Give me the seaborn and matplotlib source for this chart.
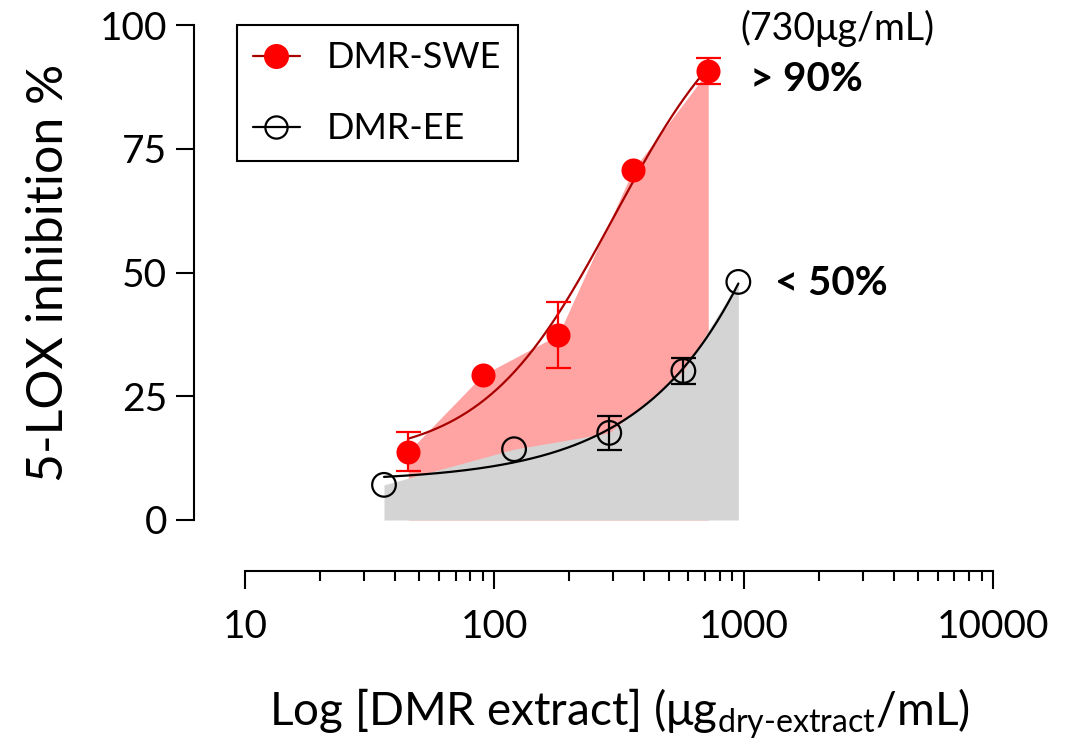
import numpy as np
import pandas as pd
import matplotlib
matplotlib.use("Agg")
import matplotlib.pyplot as plt
from matplotlib.lines import Line2D
from matplotlib.ticker import LogLocator, FixedLocator, NullFormatter
import seaborn as sns

# values
swe_conc = [45.2, 89.8, 180.6, 361.0, 721.0]
swe_inhib = [13.8, 29.3, 37.4, 70.8, 90.7]
swe_err = [3.9, 0.0, 6.7, 0.0, 2.7]

ee_conc = [36.1, 120.0, 289.0, 573.0, 952.0]
ee_inhib = [7.1, 14.3, 17.6, 30.1, 48.1]
ee_err = [0.0, 0.0, 3.4, 2.7, 0.0]

y_ticks = [0, 25, 50, 75, 100]
x_ticks = [10, 100, 1000, 10000]
x_ticklabels = ["10", "100", "1000", "10000"]


def fit_logistic(x, y):
    # 4PL fit on log10 concentration: grid over EC50 / hill, bottom+top by lstsq
    lx = np.log10(np.asarray(x))
    y = np.asarray(y)
    best = None
    for c in np.linspace(1.0, 4.0, 301):
        for h in np.linspace(0.2, 5.0, 97):
            s = 1.0 / (1.0 + 10 ** ((c - lx) * h))
            A = np.column_stack([np.ones_like(s), s])
            coef = np.linalg.lstsq(A, y, rcond=None)[0]
            err = np.sum((A @ coef - y) ** 2)
            if best is None or err < best[0]:
                best = (err, c, h, coef)
    _, c, h, coef = best

    def f(xx):
        s = 1.0 / (1.0 + 10 ** ((c - np.log10(xx)) * h))
        return coef[0] + coef[1] * s
    return f


def errbars(ax, x, y, err, color):
    # only the points that actually carry an error bar
    x, y, err = np.asarray(x), np.asarray(y), np.asarray(err)
    m = err > 0
    ax.errorbar(x[m], y[m], yerr=err[m], fmt="none", ecolor=color,
                elinewidth=1.6, capsize=9, capthick=1.6, zorder=4)


sns.set_theme(style="ticks")
plt.rcParams["font.family"] = ["Lato", "DejaVu Sans"]
plt.rcParams["text.color"] = "black"
plt.rcParams["axes.labelcolor"] = "black"
plt.rcParams["mathtext.fontset"] = "custom"
plt.rcParams["mathtext.rm"] = "Lato"
plt.rcParams["mathtext.it"] = "Lato:italic"
plt.rcParams["mathtext.bf"] = "Lato:bold"

fig = plt.figure(figsize=(10.68, 7.48), dpi=100)
ax = fig.add_axes([245 / 1068, 1 - 520 / 748, 748 / 1068, 495 / 748])

RED = "#ff0000"
DARKRED = "#a80000"

# shaded areas under the data
ax.fill_between(swe_conc, swe_inhib, 0, color="#ffa3a3", lw=0, zorder=1)
ax.fill_between(ee_conc, ee_inhib, 0, color="#d4d4d4", lw=0, zorder=2)

# fitted curves
f_swe = fit_logistic(swe_conc, swe_inhib)
f_ee = fit_logistic(ee_conc, ee_inhib)
xs_swe = np.logspace(np.log10(swe_conc[0]), np.log10(swe_conc[-1]), 200)
xs_ee = np.logspace(np.log10(ee_conc[0]), np.log10(ee_conc[-1]), 200)
curves = pd.DataFrame({"x": xs_swe, "y": f_swe(xs_swe)})
sns.lineplot(data=curves, x="x", y="y", color=DARKRED, lw=1.6, ax=ax, zorder=3)
curves = pd.DataFrame({"x": xs_ee, "y": f_ee(xs_ee)})
sns.lineplot(data=curves, x="x", y="y", color="black", lw=1.6, ax=ax, zorder=3)

errbars(ax, swe_conc, swe_inhib, swe_err, RED)
errbars(ax, ee_conc, ee_inhib, ee_err, "black")

# points
sns.scatterplot(x=swe_conc, y=swe_inhib, s=300, color=RED, edgecolor=RED,
                linewidth=0, ax=ax, zorder=5)
ax.scatter(ee_conc, ee_inhib, s=290, facecolors="none", edgecolors="black",
           linewidths=1.6, zorder=5)

ax.set_xscale("log")
ax.set_xlim(10, 10000)
ax.set_ylim(0, 100)

ax.xaxis.set_major_locator(FixedLocator(x_ticks))
ax.set_xticklabels(x_ticklabels)
ax.xaxis.set_minor_locator(LogLocator(base=10, subs=np.arange(2, 10)))
ax.xaxis.set_minor_formatter(NullFormatter())
ax.set_yticks(y_ticks)

for side in ["top", "right"]:
    ax.spines[side].set_visible(False)
for side in ["left", "bottom"]:
    ax.spines[side].set_position(("outward", 37))
    ax.spines[side].set_linewidth(1.5)
    ax.spines[side].set_color("black")

ax.tick_params(axis="both", which="major", length=13, width=1.5,
               labelsize=28, color="black", labelcolor="black")
ax.tick_params(axis="x", which="major", pad=14)
ax.tick_params(axis="y", which="major", pad=6)
ax.tick_params(axis="x", which="minor", length=7, width=1.5, color="black")

ax.set_xlabel(r"Log [DMR extract] (μg$_{\text{dry-extract}}$/mL)",
              fontsize=33, labelpad=30)
ax.set_ylabel("5-LOX inhibition %", fontsize=36, labelpad=20)

# annotations
ax.text(967, 99.4, "(730μg/mL)", fontsize=27, ha="left", va="center",
        clip_on=False)
ax.text(1060, 88.9, "> 90%", fontsize=29, fontweight="bold", ha="left",
        va="center", clip_on=False)
ax.text(1336, 47.7, "< 50%", fontsize=29, fontweight="bold", ha="left",
        va="center", clip_on=False)

handles = [
    Line2D([], [], color=DARKRED, lw=1.6, marker="o", markersize=17,
           markerfacecolor=RED, markeredgecolor=RED),
    Line2D([], [], color="black", lw=1.6, marker="o", markersize=16,
           markerfacecolor="none", markeredgecolor="black", markeredgewidth=1.6),
]
leg = ax.legend(handles, ["DMR-SWE", "DMR-EE"], loc="upper left",
                bbox_to_anchor=(-0.011, 1.0), borderaxespad=0, fontsize=26,
                frameon=True, fancybox=False, framealpha=1, edgecolor="black",
                handlelength=1.3, handletextpad=0.75, labelspacing=1.05,
                borderpad=0.45)
leg.get_frame().set_linewidth(1.5)

fig.savefig("out.png", dpi=100)
